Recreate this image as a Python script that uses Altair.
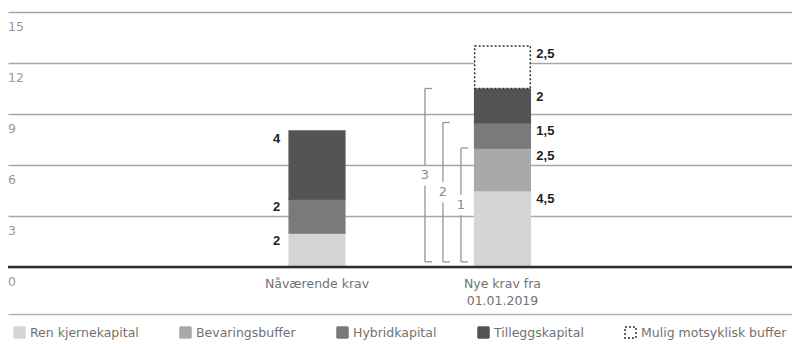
import altair as alt
import pandas as pd

# Capital requirement components (percent of risk-weighted assets)
komponenter = ["Ren kjernekapital", "Bevaringsbuffer", "Hybridkapital",
               "Tilleggskapital", "Mulig motsyklisk buffer"]
krav = ["Nåværende krav", "Nye krav fra\n01.01.2019"]
krav_posisjon = [1, 2]
naavaerende_krav = [2, 0, 2, 4, 0]
nye_krav = [4.5, 2.5, 1.5, 2, 2.5]
y_ticks = [0, 3, 6, 9, 12, 15]

fyllfarger = ["#d5d5d7", "#a9a9ab", "#7a7a7c", "#545456", "#ffffff"]
strekfarger = ["#d5d5d7", "#a9a9ab", "#7a7a7c", "#545456", "#333333"]
strekmonster = [[1, 0], [1, 0], [1, 0], [1, 0], [2, 2]]

FONT = "DejaVu Sans"
BOLD_FONT = "Liberation Sans Narrow, Liberation Sans, Arial"
GRAY = "#727272"

rows = []
for k, pos, verdier in zip(krav, krav_posisjon, [naavaerende_krav, nye_krav]):
    for i, (komp, v) in enumerate(zip(komponenter, verdier)):
        if v > 0:
            rows.append({"krav": k, "pos": pos, "komponent": komp,
                         "rekkefolge": i, "verdi": v,
                         "etikett": f"{v:g}".replace(".", ",")})
df = pd.DataFrame(rows)

x_scale = alt.Scale(domain=[-0.666, 3.561], nice=False, zero=False)
y_scale = alt.Scale(domain=[0, 15], nice=False, zero=False)

base = (
    alt.Chart(df)
    .transform_stack(stack="verdi", groupby=["krav"], as_=["y0", "y1"],
                     sort=[alt.SortField("rekkefolge", order="ascending")])
    .transform_calculate(venstre="datum.pos - 0.15")
    .transform_calculate(hoyre="datum.pos + 0.15")
)

legend = alt.Legend(
    title=None, orient="none", legendX=5, legendY=314, direction="horizontal",
    columns=5, symbolType="square", symbolSize=121, symbolStrokeWidth=1.5,
    labelFont=FONT, labelFontSize=12.5, labelColor=GRAY, labelOffset=4,
    columnPadding=38, padding=0, labelLimit=400,
)

bars = base.mark_bar(strokeWidth=1.5).encode(
    x=alt.X("venstre:Q", scale=x_scale,
            axis=alt.Axis(labels=False, ticks=False, grid=False, title=None,
                          domain=True, domainColor="#b3b3b3", domainWidth=1.5,
                          offset=47)),
    x2="hoyre:Q",
    y=alt.Y("y0:Q", scale=y_scale,
            axis=alt.Axis(values=y_ticks, grid=True, gridColor="#a6a6a6",
                          gridWidth=1.5, labels=False, ticks=False,
                          domain=False, title=None)),
    y2="y1:Q",
    fill=alt.Fill("komponent:N", scale=alt.Scale(domain=komponenter, range=fyllfarger),
                  legend=legend),
    stroke=alt.Stroke("komponent:N", scale=alt.Scale(domain=komponenter, range=strekfarger),
                      legend=legend),
    strokeDash=alt.StrokeDash("komponent:N",
                              scale=alt.Scale(domain=komponenter, range=strekmonster),
                              legend=legend),
)

# Value labels: left of the current bar, right of the new bar
etikett_venstre = base.transform_filter("datum.pos == 1").mark_text(
    align="right", baseline="middle", dx=-9, dy=8, font=BOLD_FONT,
    fontWeight="bold", fontSize=13, color="#222222",
).encode(x=alt.X("venstre:Q", scale=x_scale), y=alt.Y("y1:Q", scale=y_scale),
         text="etikett:N")

etikett_hoyre = base.transform_filter("datum.pos == 2").mark_text(
    align="left", baseline="middle", dx=6, dy=8, font=BOLD_FONT,
    fontWeight="bold", fontSize=13, color="#222222",
).encode(x=alt.X("hoyre:Q", scale=x_scale), y=alt.Y("y1:Q", scale=y_scale),
         text="etikett:N")

# Brackets 1-3 spanning the cumulative requirement levels of the new rules
brakett = (
    base.transform_filter("datum.pos == 2 && datum.rekkefolge >= 1 && datum.rekkefolge <= 3")
    .transform_calculate(bx="datum.pos - 0.224 - (datum.rekkefolge - 1) * 0.097")
    .transform_calculate(bx2="datum.bx + 0.038")
    .transform_calculate(bunn="0.3")
    .transform_calculate(midt="(0.3 + datum.y1) / 2")
    .transform_calculate(gap_lo="datum.midt - 0.6")
    .transform_calculate(gap_hi="datum.midt + 0.6")
)
brakett_farge = "#959595"
brakett_nedre = brakett.mark_rule(color=brakett_farge, strokeWidth=1.3).encode(
    x=alt.X("bx:Q", scale=x_scale), y=alt.Y("bunn:Q", scale=y_scale), y2="gap_lo:Q")
brakett_ovre = brakett.mark_rule(color=brakett_farge, strokeWidth=1.3).encode(
    x=alt.X("bx:Q", scale=x_scale), y=alt.Y("gap_hi:Q", scale=y_scale), y2="y1:Q")
brakett_topp = brakett.mark_rule(color=brakett_farge, strokeWidth=1.3).encode(
    x=alt.X("bx:Q", scale=x_scale), x2="bx2:Q", y=alt.Y("y1:Q", scale=y_scale))
brakett_bunn = brakett.mark_rule(color=brakett_farge, strokeWidth=1.3).encode(
    x=alt.X("bx:Q", scale=x_scale), x2="bx2:Q", y=alt.Y("bunn:Q", scale=y_scale))
brakett_tekst = brakett.mark_text(
    font=FONT, fontSize=13, color="#8a8a8a", baseline="middle", align="center",
).encode(x=alt.X("bx:Q", scale=x_scale), y=alt.Y("midt:Q", scale=y_scale),
         text="rekkefolge:N")

# Zero line
nulllinje = alt.Chart(pd.DataFrame({"y": [0]})).mark_rule(
    color="#2e2e2e", strokeWidth=2.5).encode(y=alt.Y("y:Q", scale=y_scale))

# Y tick labels sit just below each gridline
y_etiketter = alt.Chart(pd.DataFrame({"tick": y_ticks})).mark_text(
    align="left", baseline="middle", dy=15, font=FONT, fontSize=12.5, color="#999999",
).encode(x=alt.value(0), y=alt.Y("tick:Q", scale=y_scale), text="tick:Q")

# Category labels under the bars
kategori = alt.Chart(pd.DataFrame({"krav": krav, "pos": krav_posisjon})).mark_text(
    align="center", baseline="top", dy=11, lineBreak="\n", lineHeight=17,
    font=FONT, fontSize=12.5, color=GRAY,
).encode(x=alt.X("pos:Q", scale=x_scale), y=alt.datum(0), text="krav:N")

chart = alt.layer(
    bars, nulllinje, etikett_venstre, etikett_hoyre,
    brakett_nedre, brakett_ovre, brakett_topp, brakett_bunn, brakett_tekst,
    y_etiketter, kategori,
).properties(
    width=784, height=255, autosize="none",
    padding={"left": 8, "top": 12, "right": 0, "bottom": 77},
).configure_view(stroke=None)

chart.save("out.html", embed_options={"renderer": "svg", "actions": False})
